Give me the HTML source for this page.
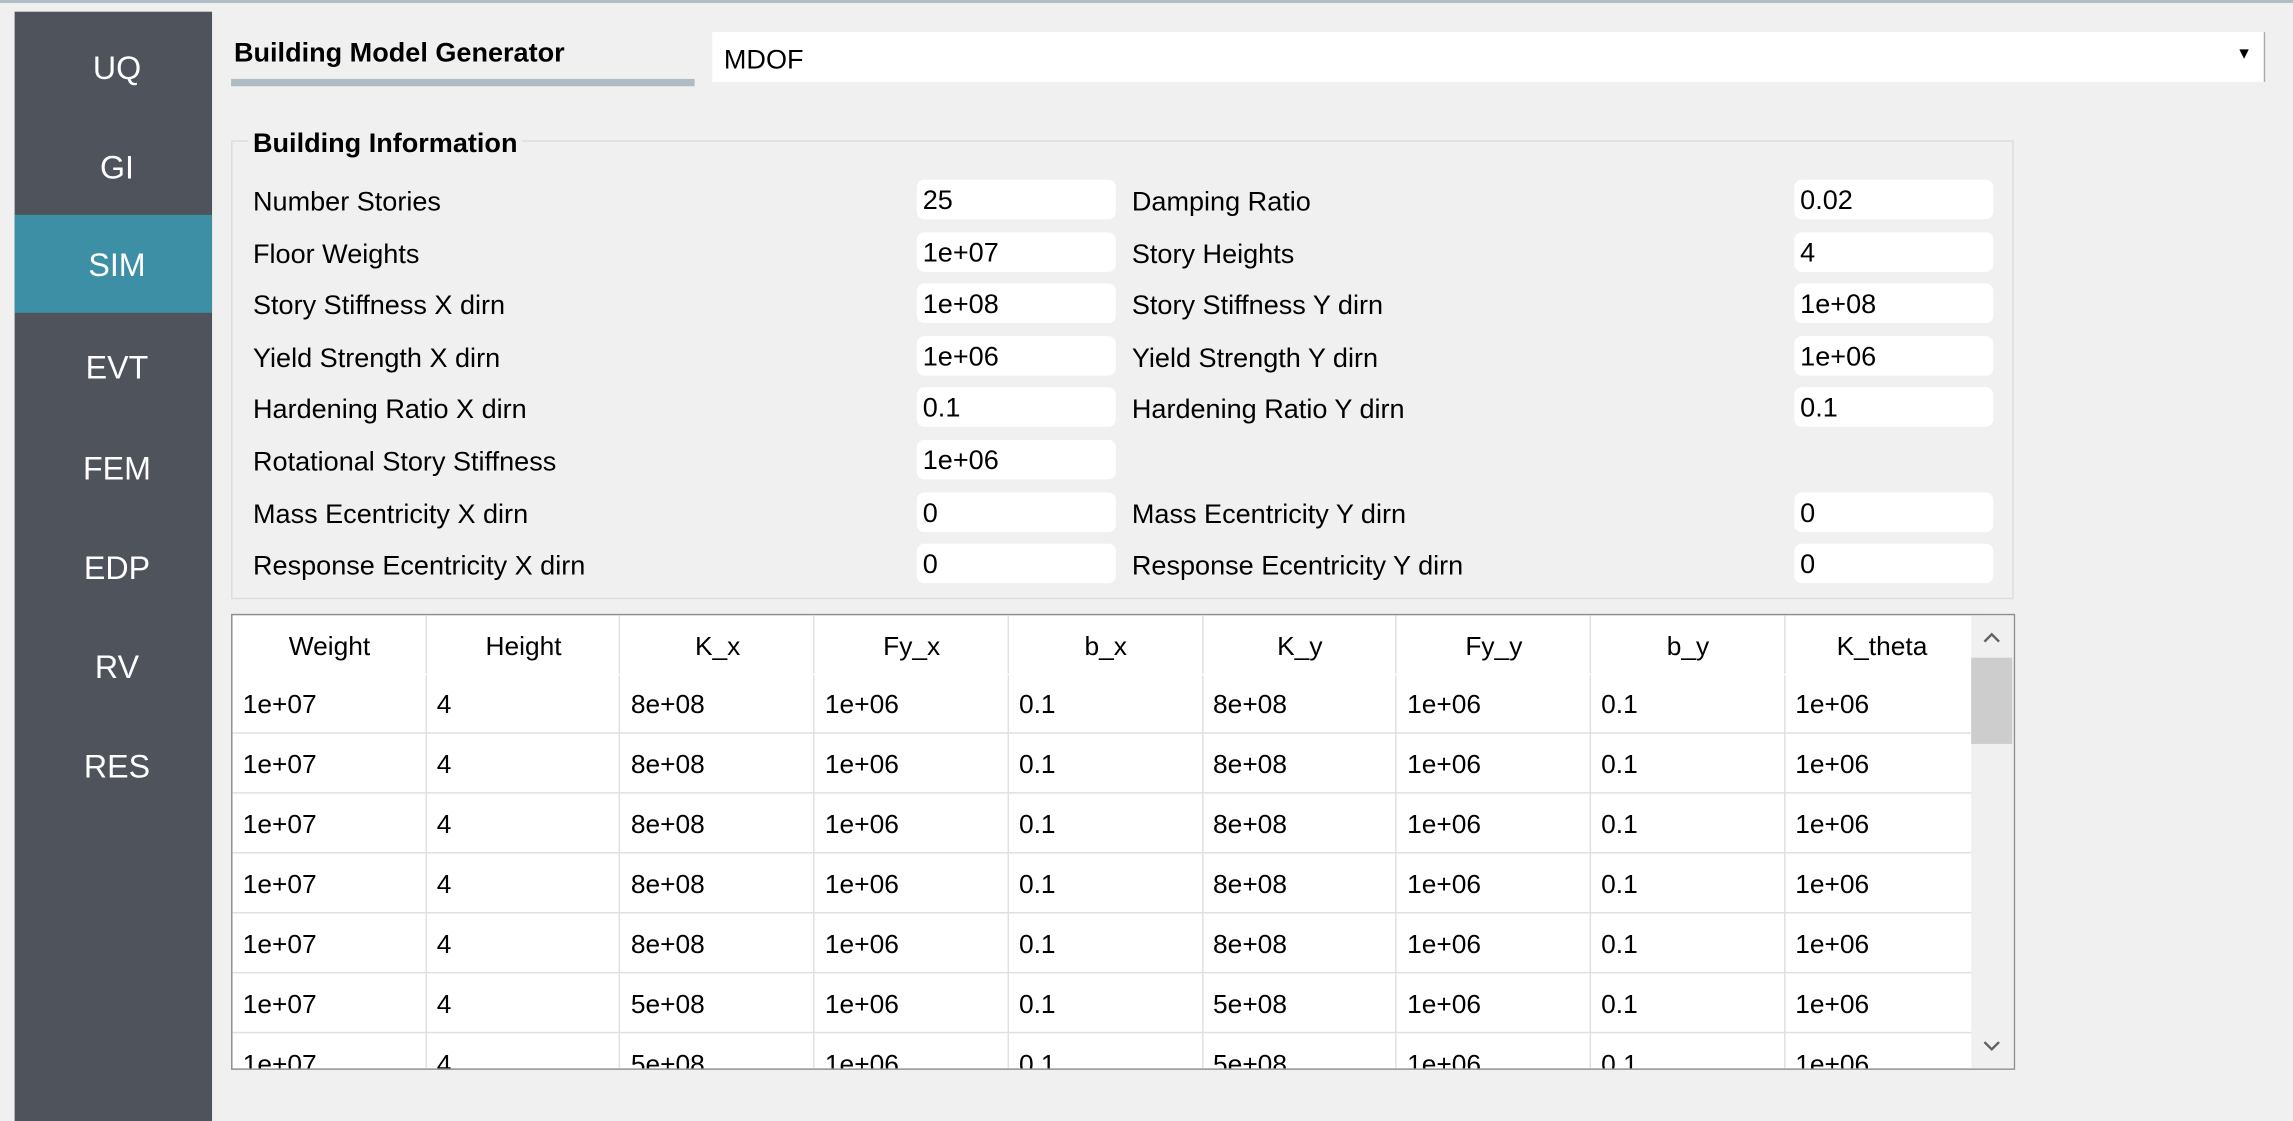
<!DOCTYPE html>
<html><head><meta charset="utf-8">
<style>
html,body{margin:0;padding:0;background:#f0f0f0;overflow:hidden;}
#wrap{position:absolute;left:0;top:0;width:1568px;height:767px;transform:scale(1.46237,1.46154);transform-origin:0 0;font-family:"Liberation Sans",sans-serif;color:#000;}
.abs{position:absolute;}
.nav{position:absolute;left:10px;width:135px;height:68px;color:#fff;font-size:22px;text-align:center;line-height:68px;padding-left:5px;box-sizing:border-box;}
.lbl{position:absolute;font-size:18.5px;white-space:nowrap;}
.inp{position:absolute;width:136px;height:27px;background:#fff;border-radius:5px;font-size:18.5px;line-height:27px;padding-left:4px;box-sizing:border-box;}
.cell{position:absolute;font-size:18px;white-space:nowrap;}
</style></head><body>
<div id="wrap">
<div class="abs" style="left:0;top:0;width:1568px;height:2px;background:#b0bcc4"></div>
<div class="abs" style="left:10px;top:8px;width:135px;height:759px;background:#4f535b"></div>
<div class="nav" style="top:13px">UQ</div>
<div class="nav" style="top:81px">GI</div>
<div class="nav" style="top:147px;background:#3d8fa5;height:67px;line-height:70px">SIM</div>
<div class="nav" style="top:218px">EVT</div>
<div class="nav" style="top:287px">FEM</div>
<div class="nav" style="top:355px">EDP</div>
<div class="nav" style="top:423px">RV</div>
<div class="nav" style="top:491px">RES</div>

<div class="abs" style="left:160px;top:25px;font-size:18.5px;font-weight:bold">Building Model Generator</div>
<div class="abs" style="left:158px;top:54px;width:317px;height:5px;background:#b0bcc4"></div>
<div class="abs" style="left:487px;top:22px;width:1061px;height:34px;background:#fff;border-right:1px solid #aaa">
 <span class="abs" style="left:8px;top:8px;font-size:18.5px">MDOF</span>
 <span class="abs" style="right:8px;top:9px;font-size:11px">&#9660;</span>
</div>

<div class="abs" style="left:158px;top:96px;width:1219px;height:314px;border:1px solid #dcdcdc;box-sizing:border-box"></div>
<div class="abs" style="left:170px;top:87px;padding:0 3px;background:#f0f0f0;font-size:18.5px;font-weight:bold">Building Information</div>
<div id="form"></div>

<div class="abs" style="left:158px;top:420px;width:1220px;height:312px;border:1px solid #8a8d92;box-sizing:border-box;background:#fff;overflow:hidden">
 <div id="tbl"></div>
 <div class="abs" style="left:1189px;top:0;width:30px;height:310px;background:#f0f0f0">
  <div class="abs" style="left:0;top:29px;width:28px;height:59px;background:#cdcdcd"></div>
  <svg class="abs" style="left:8px;top:11px" width="12" height="8"><polyline points="1,7 6,2 11,7" fill="none" stroke="#606060" stroke-width="1.6"/></svg>
  <svg class="abs" style="left:8px;top:291px" width="12" height="8"><polyline points="1,1 6,6 11,1" fill="none" stroke="#606060" stroke-width="1.6"/></svg>
 </div>
</div>
</div>
<script>
const leftLabels=["Number Stories","Floor Weights","Story Stiffness X dirn","Yield Strength X dirn","Hardening Ratio X dirn","Rotational Story Stiffness","Mass Ecentricity X dirn","Response Ecentricity X dirn"];
const leftValues=["25","1e+07","1e+08","1e+06","0.1","1e+06","0","0"];
const rightLabels=["Damping Ratio","Story Heights","Story Stiffness Y dirn","Yield Strength Y dirn","Hardening Ratio Y dirn","","Mass Ecentricity Y dirn","Response Ecentricity Y dirn"];
const rightValues=["0.02","4","1e+08","1e+06","0.1",null,"0","0"];
const form=document.getElementById('form');
function add(parent,cls,x,y,txt){const d=document.createElement('div');d.className=cls;d.style.left=x+'px';d.style.top=y+'px';d.textContent=txt;parent.appendChild(d);return d;}
for(let i=0;i<leftLabels.length;i++){
 const cy=137+i*35.6;
 let a=add(form,'lbl',173,cy-10,leftLabels[i]);
 
 
 let b=add(form,'inp',627,cy-14,leftValues[i]);
 
 
 if(rightLabels[i]){
  let c=add(form,'lbl',774,cy-10,rightLabels[i]);
  
  
 }
 if(rightValues[i]!==null){
  let e=add(form,'inp',1227,cy-14,rightValues[i]);
  
  
 }
}
const headers=["Weight","Height","K_x","Fy_x","b_x","K_y","Fy_y","b_y","K_theta"];
const colWeight=["1e+07","1e+07","1e+07","1e+07","1e+07","1e+07","1e+07"];
const colHeight=["4","4","4","4","4","4","4"];
const colKx=["8e+08","8e+08","8e+08","8e+08","8e+08","5e+08","5e+08"];
const colFyx=["1e+06","1e+06","1e+06","1e+06","1e+06","1e+06","1e+06"];
const colBx=["0.1","0.1","0.1","0.1","0.1","0.1","0.1"];
const colKy=["8e+08","8e+08","8e+08","8e+08","8e+08","5e+08","5e+08"];
const colFyy=["1e+06","1e+06","1e+06","1e+06","1e+06","1e+06","1e+06"];
const colBy=["0.1","0.1","0.1","0.1","0.1","0.1","0.1"];
const colKt=["1e+06","1e+06","1e+06","1e+06","1e+06","1e+06","1e+06"];
const cols=[colWeight,colHeight,colKx,colFyx,colBx,colKy,colFyy,colBy,colKt];
const tbl=document.getElementById('tbl');
const cw=132.7,hh=40,rh=41;
for(let c=0;c<headers.length;c++){
 const x=c*cw;
 const h=document.createElement('div');h.className='cell';
 h.style.left=x+'px';h.style.top='11px';h.style.width=cw+'px';h.style.textAlign='center';h.textContent=headers[c];
 
 
 tbl.appendChild(h);
 const v=document.createElement('div');v.className='abs';
 v.style.cssText='left:'+(x+cw-1)+'px;top:0;width:1px;height:320px;background:#e0e0e0';
 
 
 tbl.appendChild(v);
 for(let r=0;r<cols[c].length;r++){
  const d=document.createElement('div');d.className='cell';
  d.style.left=(x+7)+'px';d.style.top=(hh+r*rh+11)+'px';d.textContent=cols[c][r];
  
  
  tbl.appendChild(d);
 }
}
for(let r=0;r<7;r++){
 const l=document.createElement('div');l.className='abs';
 l.style.cssText='left:0;top:'+(hh+r*rh+(r?-1:0))+'px;width:1190px;height:1px;background:'+(r?'#e0e0e0':'#fff');
 
 
 tbl.appendChild(l);
}
</script>
</body></html>
